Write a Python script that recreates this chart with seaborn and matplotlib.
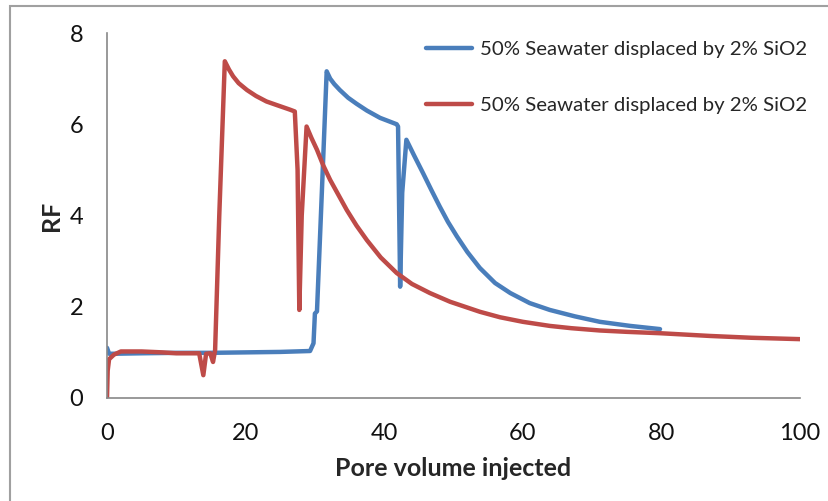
import matplotlib
matplotlib.use("Agg")
import matplotlib.pyplot as plt
import matplotlib.patches as mpatches
import seaborn as sns
import pandas as pd

# Series 1 (blue)
blue_x = [0, 0.3, 1, 5, 10, 15, 20, 25, 29.3, 29.8, 30.0, 30.3, 31.0, 31.7, 32.2,
          32.8, 33.6, 34.8, 36.0, 37.5, 39.4, 41.8, 42.0, 42.3, 42.6, 43.2, 44.3,
          45.6, 46.8, 48.0, 49.2, 50.5, 52.0, 53.8, 56.0, 58.2, 61.0, 63.9, 67.5,
          71.1, 75.5, 79.8]
blue_y = [1.1, 0.97, 0.97, 0.98, 0.99, 0.99, 1.0, 1.01, 1.03, 1.2, 1.85, 1.9, 4.5,
          7.16, 7.0, 6.88, 6.75, 6.58, 6.45, 6.3, 6.14, 6.0, 5.95, 2.44, 4.5, 5.66,
          5.32, 4.93, 4.56, 4.2, 3.86, 3.54, 3.2, 2.85, 2.52, 2.30, 2.08, 1.93, 1.79,
          1.67, 1.58, 1.51]

# Series 2 (red)
red_x = [0, 0.1, 0.3, 1, 2, 5, 8, 10, 13.3, 13.9, 14.3, 14.9, 15.3, 15.6, 16.2,
         17.0, 17.6, 18.2, 19.0, 20.2, 21.5, 23.0, 24.5, 26.4, 27.1, 27.5, 27.75,
         28.1, 28.8, 29.5, 30.3, 31.2, 32.2, 33.4, 34.6, 36.0, 37.5, 39.5, 41.8,
         44.0, 46.6, 49.5, 53.8, 56.7, 60.0, 63.9, 67.0, 71.1, 75.0, 79.8, 87.0,
         93.0, 100]
red_y = [0, 0.6, 0.85, 0.95, 1.02, 1.02, 1.0, 0.98, 0.98, 0.5, 0.97, 0.98, 0.79,
         1.05, 4.0, 7.38, 7.2, 7.05, 6.9, 6.75, 6.62, 6.5, 6.42, 6.32, 6.28, 5.0,
         1.93, 4.0, 5.95, 5.7, 5.44, 5.1, 4.78, 4.45, 4.12, 3.78, 3.46, 3.08, 2.74,
         2.5, 2.30, 2.11, 1.89, 1.77, 1.67, 1.58, 1.53, 1.48, 1.45, 1.42, 1.36,
         1.32, 1.29]

series_label = "50% Seawater displaced by 2% SiO2"
x_ticks = [0, 20, 40, 60, 80, 100]
y_ticks = [0, 2, 4, 6, 8]

sns.set_theme(style="white")
plt.rcParams['font.family'] = ['Lato', 'DejaVu Sans']

fig = plt.figure(figsize=(8.29, 5.01), dpi=100)
ax = fig.add_axes([107/829, 1 - 398/501, (800 - 107)/829, (398 - 33)/501])

blue_df = pd.DataFrame({"x": blue_x, "y": blue_y})
red_df = pd.DataFrame({"x": red_x, "y": red_y})

sns.lineplot(data=blue_df, x="x", y="y", sort=False, estimator=None, ax=ax,
             color="#4A7EBB", lw=3.2, label=series_label)
sns.lineplot(data=red_df, x="x", y="y", sort=False, estimator=None, ax=ax,
             color="#BE4B48", lw=3.2, label=series_label)

ax.set_xlim(0, 100)
ax.set_ylim(0, 8)
ax.set_xticks(x_ticks)
ax.set_yticks(y_ticks)
for s in ["top", "right"]:
    ax.spines[s].set_visible(False)
for s in ["left", "bottom"]:
    ax.spines[s].set_color("#888888")
    ax.spines[s].set_linewidth(1.2)
ax.tick_params(axis="both", direction="out", length=6, width=1.2, color="#888888",
               labelsize=17, labelcolor="#111111")
ax.tick_params(axis="x", pad=12)
ax.tick_params(axis="y", pad=11)
ax.set_xlabel("Pore volume injected", fontsize=18, fontweight="bold", labelpad=9)
ax.set_ylabel("RF", fontsize=18, fontweight="bold", labelpad=5)

leg = ax.legend(loc="upper left", bbox_to_anchor=(0.434, 1.029), frameon=False,
                fontsize=14.7, handlelength=2.25, handletextpad=0.4, labelspacing=1.9)

fig.patches.append(mpatches.Rectangle((10/829, -0.05), 1.0, (1 - 6/501) + 0.05,
                                      transform=fig.transFigure, fill=False,
                                      edgecolor="#a0a0a0", lw=1.5))

fig.savefig("out.png", dpi=100)
